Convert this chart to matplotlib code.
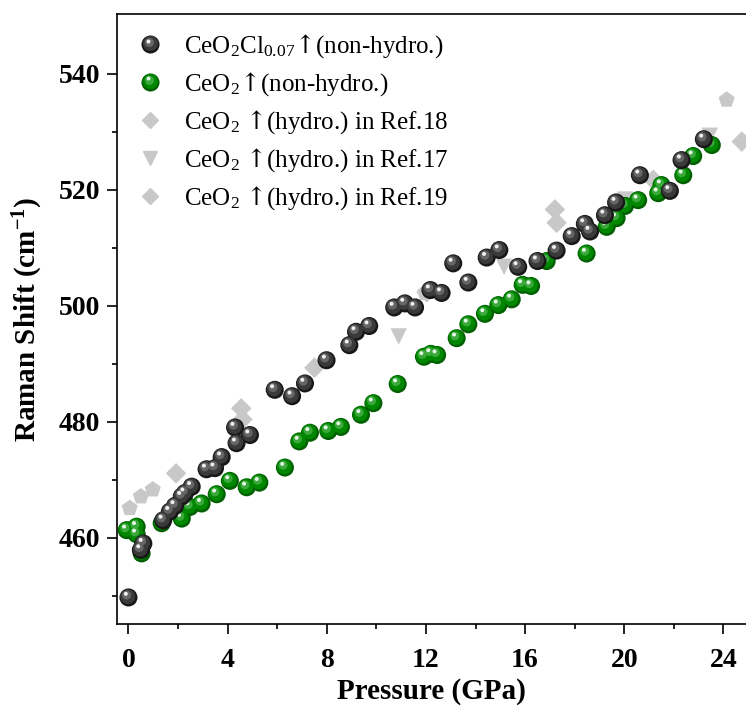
import matplotlib
matplotlib.use("Agg")
import matplotlib.pyplot as plt
from matplotlib.lines import Line2D
from matplotlib.legend_handler import HandlerBase
from matplotlib.transforms import offset_copy

plt.rcParams['font.family'] = ['Liberation Serif', 'DejaVu Serif']
plt.rcParams['mathtext.fontset'] = 'dejavuserif'
plt.rcParams['mathtext.default'] = 'regular'

# CeO2Cl0.07 (non-hydro.)
cl_p = [0.0, 0.6, 0.5, 1.40, 1.67, 1.88, 2.15, 2.28, 2.55, 3.15, 3.49, 3.76, 4.30, 4.36,
        4.90, 5.90, 6.60, 7.12, 7.99, 8.91, 9.18, 9.71, 10.72, 11.15, 11.56, 12.18, 12.63,
        13.10, 13.71, 14.45, 14.96, 15.72, 16.50, 17.27, 17.88, 18.41, 18.62, 19.22, 19.67,
        20.63, 21.84, 22.31, 23.21]
cl_w = [449.7, 459.0, 457.9, 463.0, 464.5, 465.5, 467.1, 467.7, 468.8, 471.8, 472.0, 473.9,
        479.0, 476.3, 477.7, 485.5, 484.4, 486.6, 490.6, 493.2, 495.5, 496.5, 499.7, 500.4,
        499.7, 502.7, 502.2, 507.3, 504.0, 508.3, 509.6, 506.7, 507.7, 509.5, 512.0, 514.1,
        512.8, 515.6, 517.8, 522.5, 519.8, 525.1, 528.7]

# CeO2 (non-hydro.)
ce_p = [-0.07, 0.33, 0.33, 0.53, 1.34, 2.15, 2.48, 2.95, 3.56, 4.09, 4.77, 5.28, 6.31,
        6.89, 7.32, 8.06, 8.57, 9.38, 9.88, 10.86, 11.92, 12.20, 12.45, 13.24, 13.71,
        14.38, 14.92, 15.46, 15.90, 16.24, 16.87, 18.48, 19.29, 19.69, 20.03, 20.56,
        21.37, 21.50, 22.38, 22.78, 23.53]
ce_w = [461.3, 461.9, 460.6, 457.3, 462.5, 463.3, 465.3, 465.9, 467.5, 469.8, 468.7, 469.5,
        472.1, 476.6, 478.1, 478.4, 479.1, 481.2, 483.2, 486.5, 491.2, 491.7, 491.5, 494.4,
        496.8, 498.6, 500.1, 501.1, 503.6, 503.4, 507.7, 509.0, 513.6, 515.1, 517.2, 518.2,
        519.4, 520.8, 522.5, 525.8, 527.7]

# CeO2 (hydro.) reference data
r18_p = [0.05, 0.50, 0.98, 11.96, 24.13]
r18_w = [465.1, 467.1, 468.3, 502.2, 535.5]
r17_p = [10.90, 15.15, 20.03, 23.45]
r17_w = [494.7, 506.7, 518.3, 529.3]
r19_p = [1.92, 4.55, 4.60, 7.50, 12.03, 17.20, 17.27, 21.17, 24.74]
r19_w = [471.1, 482.3, 480.4, 489.3, 502.3, 516.6, 514.3, 521.7, 528.3]

labels = [r'CeO$_2$Cl$_{0.07}\mathrm{↑}$(non-hydro.)', r'CeO$_2\mathrm{↑}$(non-hydro.)',
          r'CeO$_2$ $\mathrm{↑}$(hydro.) in Ref.18', r'CeO$_2$ $\mathrm{↑}$(hydro.) in Ref.17',
          r'CeO$_2$ $\mathrm{↑}$(hydro.) in Ref.19']

MS = 13
# (size fraction, dx pt, dy pt) for the shaded ball layers
LAYERS = [(1.0, 0, 0), (0.82, -0.5, 0.6), (0.5, -1.3, 1.7), (0.22, -1.9, 2.6)]
BLACK = ['#181818', '#3a3a3a', '#666666', '#f0f0f0']
GREEN = ['#006000', '#008800', '#3aa83a', '#e6f6e6']

fig = plt.figure(figsize=(7.46, 7.08), dpi=100)
ax = fig.add_axes([0.1564, 0.1182, 0.8436, 0.8624])


def balls(x, y, cols, z):
    for (f, dx, dy), c in zip(LAYERS, cols):
        tr = offset_copy(ax.transData, fig, x=dx, y=dy, units='points')
        ax.scatter(x, y, s=(MS * f) ** 2, color=c, edgecolors='none', transform=tr,
                   zorder=z, clip_on=False)


class BallHandler(HandlerBase):
    def __init__(self, cols):
        super().__init__()
        self.cols = cols

    def create_artists(self, legend, orig_handle, xdescent, ydescent, width, height,
                       fontsize, trans):
        cx = 0.5 * width - xdescent
        cy = 0.5 * height - ydescent
        arts = []
        for (f, dx, dy), c in zip(LAYERS, self.cols):
            arts.append(Line2D([cx + dx], [cy + dy], marker='o', ms=MS * f, color=c,
                               mec='none', ls='none', transform=trans))
        return arts


gray = '#c8c8c8'
ax.scatter(r18_p, r18_w, marker='p', s=150, color=gray, edgecolors='none', zorder=2, clip_on=False)
ax.scatter(r17_p, r17_w, marker='v', s=140, color=gray, edgecolors='none', zorder=2, clip_on=False)
ax.scatter(r19_p, r19_w, marker='D', s=110, color=gray, edgecolors='none', zorder=2, clip_on=False)
balls(ce_p, ce_w, GREEN, 3)
balls(cl_p, cl_w, BLACK, 4)

h_cl = Line2D([], [], ls='none')
h_ce = Line2D([], [], ls='none')
h18 = Line2D([], [], marker='D', ms=8, color=gray, ls='none')
h17 = Line2D([], [], marker='v', ms=10, color=gray, ls='none')
h19 = Line2D([], [], marker='D', ms=8, color=gray, ls='none')
ax.legend([h_cl, h_ce, h18, h17, h19], labels, loc='upper left',
          bbox_to_anchor=(-0.006, 1.006), frameon=False, fontsize=18,
          handlelength=1.2, handletextpad=0.75, labelspacing=0.4, borderaxespad=0.5,
          handler_map={h_cl: BallHandler(BLACK), h_ce: BallHandler(GREEN)})

ax.set_xlim(-0.476, 24.91)
ax.set_ylim(445.07, 550.34)
ax.set_xticks([0, 4, 8, 12, 16, 20, 24])
ax.set_xticks([2, 6, 10, 14, 18, 22], minor=True)
ax.set_yticks([460, 480, 500, 520, 540])
ax.set_yticks([450, 470, 490, 510, 530], minor=True)
ax.spines['right'].set_visible(False)
for s in ['left', 'bottom', 'top']:
    ax.spines[s].set_linewidth(1.2)
ax.tick_params(which='major', direction='out', length=7, width=1.2, labelsize=20, pad=5)
ax.tick_params(axis='x', which='major', pad=10)
ax.tick_params(which='minor', direction='out', length=3.5, width=1.2)
for t in ax.get_xticklabels() + ax.get_yticklabels():
    t.set_fontweight('bold')

ax.set_xlabel('Pressure (GPa)', fontsize=21, fontweight='bold', labelpad=4)
ax.set_ylabel('Raman Shift (cm$^{-1}$)', fontsize=21, fontweight='bold', labelpad=10)

fig.savefig('out.png', dpi=100)
